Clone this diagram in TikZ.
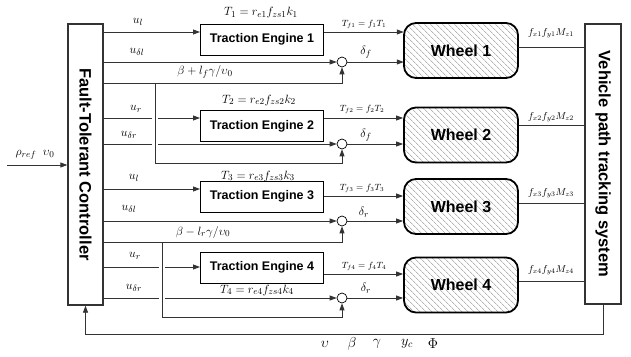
\documentclass[tikz,border=0pt]{standalone}
\usepackage{amsmath,amssymb}
\usepackage{fontspec}
\setsansfont{Liberation Sans}
\usepackage{tikz}
\usetikzlibrary{arrows.meta,calc,patterns.meta}
\definecolor{traco}{HTML}{333333}
\definecolor{hachura}{HTML}{8C8C8C}

\tikzset{
  motor/.style={draw=black, line width=1pt, minimum width=123pt, minimum height=31pt, inner sep=0pt, font=\sffamily\bfseries\fontsize{12.5}{14}\selectfont},
  roda/.style={draw=black, line width=1.8pt, rounded corners=12pt, minimum width=114pt, minimum height=55pt, inner sep=0pt,
    pattern={Lines[angle=-45,distance=4pt,line width=0.5pt]}, pattern color=hachura, font=\sffamily\bfseries\fontsize{16}{18}\selectfont},
  soma/.style={circle, draw=black, line width=0.7pt, fill=white, minimum size=10pt, inner sep=0pt},
  painel/.style={draw=traco, line width=1.3pt, inner sep=0pt},
  painelrot/.style={rotate=-90, font=\sffamily\bfseries\fontsize{16.5}{18}\selectfont},
  ligacao/.style={draw=traco, line width=0.8pt},
  rot/.style={inner sep=1pt, font=\fontsize{13}{15}\selectfont},
  rotp/.style={inner sep=1pt, font=\fontsize{9}{10}\selectfont},
  rotm/.style={inner sep=1pt, font=\fontsize{10}{12}\selectfont},
  rotg/.style={inner sep=1pt, font=\fontsize{14}{16}\selectfont},
}

\begin{document}
\begin{tikzpicture}[x=1pt, y=-1pt, >={Triangle[length=7pt,width=5pt]}]
  \useasboundingbox (0,0) rectangle (631,356);
  \node[painel, minimum width=35pt, minimum height=281pt] (ctrl) at (85.5,164.5) {};
  \node[painelrot] (ctrltxt) at (ctrl.center) {Fault-Tolerant Controller};
  \node[painel, minimum width=36pt, minimum height=280pt] (sys) at (603,164) {};
  \node[painelrot] (systxt) at (sys.center) {Vehicle path tracking system};

  \foreach \i/\yc/\yi/\yo/\yw/\yd/\ys in {1/39.5/32/32/50.5/62/47, 2/126/118/118/135/144/125,
                                          3/196.5/189/196/206.5/221/203, 4/267.5/267/274/285/298/281}{
    \node[motor] (eng\i) at (262,\yc) {Traction Engine \i};
    \node[roda] (wh\i) at (461,\yw) {Wheel \i};
    \node[soma] (sum\i) at (342,\yd) {};
    \draw[ligacao,->] (ctrl.east |- 0,\yi) -- (eng\i.west |- 0,\yi);
    \draw[ligacao,->] (eng\i.east |- 0,\yo) -- (wh\i.west |- 0,\yo);
    \draw[ligacao,->] (ctrl.east |- sum\i) -- (sum\i);
    \draw[ligacao,->] (sum\i) -- (wh\i.west |- sum\i);
    \draw[ligacao] (wh\i.east |- 0,\ys) -- (sys.west |- 0,\ys);
  }

  \fill[white] (152,112) rectangle (158,150);
  \fill[white] (159,262) rectangle (165,303);
  \coordinate (nf) at (155,83);
  \coordinate (nfb) at (155,163);
  \coordinate (nr) at (162,242);
  \coordinate (nrb) at (162,317);
  \draw[ligacao,->] (ctrl.east |- nf) -| (sum1.south);
  \draw[ligacao,->] (nf) -- (nfb) -| (sum2.south);
  \draw[ligacao,->] (ctrl.east |- nr) -| (sum3.south);
  \draw[ligacao,->] (nr) -- (nrb) -| (sum4.south);

  \coordinate (ent) at (7,165);
  \draw[ligacao,->] (ent) -- (ctrl.west |- ent);
  \draw[ligacao,->] (sys.south) -- (sys.south |- 0,334) -| (ctrl.south);

  \node[rot] (lref) at (35,155) {$\rho_{ref}\;\;\upsilon_0$};
  \node[rot] (lu1) at (138,22) {$u_l$};
  \node[rot] (ld1) at (137,52) {$u_{\delta l}$};
  \node[rot] (lu2) at (136,109) {$u_r$};
  \node[rot] (ld2) at (129,135) {$u_{\delta r}$};
  \node[rot] (lu3) at (134,178) {$u_l$};
  \node[rot] (ld3) at (129,209) {$u_{\delta l}$};
  \node[rot] (lu4) at (135,256) {$u_r$};
  \node[rot] (ld4) at (134,288) {$u_{\delta r}$};
  \node[rot] (lbf) at (205,72) {$\beta+l_f\gamma/\upsilon_0$};
  \node[rot] (lbr) at (203,232) {$\beta-l_r\gamma/\upsilon_0$};

  \node[rot] (lt1) at (261,13) {$T_1=r_{e1}f_{zs1}k_1$};
  \node[rot] (lt2) at (259,100) {$T_2=r_{e2}f_{zs2}k_2$};
  \node[rot] (lt3) at (258,176) {$T_3=r_{e3}f_{zs3}k_3$};
  \node[rot] (lt4) at (257,290) {$T_4=r_{e4}f_{zs4}k_4$};

  \node[rotp] (ltf1) at (364,24) {$T_{f1}=f_1T_1$};
  \node[rotp] (ltf2) at (362,109) {$T_{f2}=f_2T_2$};
  \node[rotp] (ltf3) at (362,188) {$T_{f3}=f_3T_3$};
  \node[rotp] (ltf4) at (364,266) {$T_{f4}=f_4T_4$};
  \node[rot] (lds1) at (366,52) {$\delta_f$};
  \node[rot] (lds2) at (366,135) {$\delta_f$};
  \node[rot] (lds3) at (364,212) {$\delta_r$};
  \node[rot] (lds4) at (366,288) {$\delta_r$};

  \foreach \k/\yy in {1/33, 2/117, 3/193, 4/270}{
    \node[rotm] (lw\k) at (551,\yy) {$f_{x\k}f_{y\k}M_{z\k}$};
  }
  \foreach \s/\xx [count=\k] in {\upsilon/325, \beta/352, \gamma/377, y_c/407, \Phi/433}{
    \node[rotg] (lfb\k) at (\xx,344) {$\s$};
  }
\end{tikzpicture}
\end{document}
